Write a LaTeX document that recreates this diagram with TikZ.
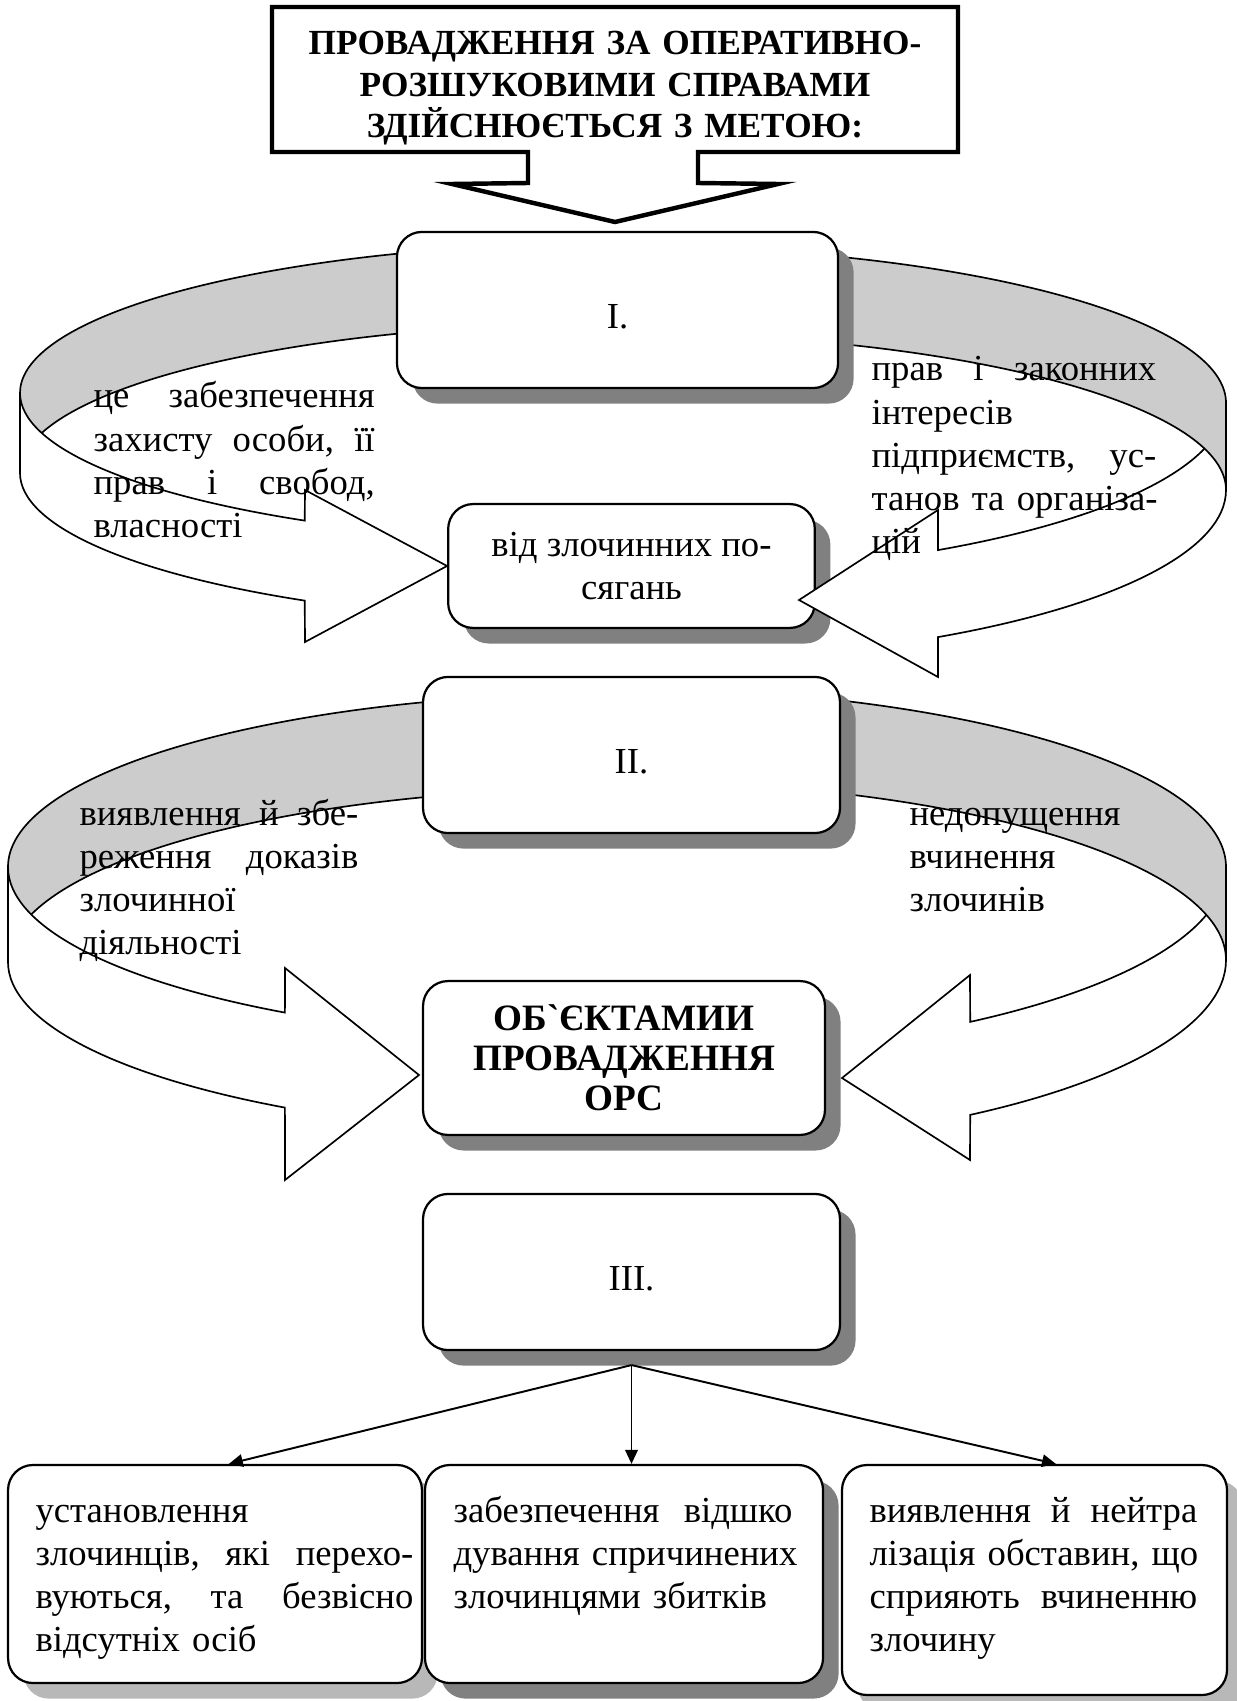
\documentclass[tikz,border=0pt]{standalone}
\usepackage{fontspec}
\setmainfont{Liberation Serif}
\newfontfamily\bezlig{Liberation Serif}[Ligatures=TeXOff]
\usetikzlibrary{arrows.meta,shadows,calc}

\newlength{\shyr}
\newcommand{\rivno}[1]{\leavevmode\hbox to\shyr{#1}}
\newcommand{\nyzhche}[1]{\raisebox{-2.5pt}[\height][\depth]{#1}}

\tikzset{
  blok/.style={draw, line width=0.8pt, rounded corners=9pt, fill=white, inner sep=0pt, align=center, font=\fontsize{13.2}{15.5}\selectfont},
  tinj/.style={general shadow={fill=black!50, shadow xshift=5.6pt, shadow yshift=-5.6pt}},
  tinjs/.style={general shadow={fill=black!28, shadow xshift=5.6pt, shadow yshift=-5.6pt}},
  stuzhka/.style={fill=black!20, draw, line width=0.6pt},
  lytse/.style={fill=white, draw, line width=0.6pt},
  tekst/.style={inner sep=0pt, anchor=base west, align=left, font=\fontsize{13.2}{15.5}\selectfont, text width=#1, execute at begin node={\setlength{\shyr}{#1}}},
  strilka/.style={-{Triangle[length=5pt,width=4.5pt]}, line width=0.7pt},
}

\begin{document}
\begin{tikzpicture}[x=0.36pt, y=-0.36pt]
\useasboundingbox (0,0) rectangle (1236,1701);

% title with block arrow
\draw[line width=1.6pt, fill=white] (272,7) -- (958,7) -- (958,152) -- (698,152) -- (698,183) -- (778,184) -- (615,222) -- (452,184) -- (528,183) -- (528,152) -- (272,152) -- cycle;
\node[inner sep=0pt, text width=240pt, align=center, anchor=base, font=\bfseries\fontsize{12.7}{14.8}\selectfont] (meta) at (615,55) {ПРОВАДЖЕННЯ ЗА ОПЕРАТИВНО-\\РОЗШУКОВИМИ СПРАВАМИ\\ЗДІЙСНЮЄТЬСЯ З МЕТОЮ:};

% target of the first pair
\node[blok, tinj, minimum width=132pt, minimum height=44.6pt] (vid) at (631.5,566) {від злочинних по-\\сягань};

% first pair of curved arrows
\coordinate (cu1) at (620,393);
\coordinate (cl1) at (620,473);
\draw[stuzhka] ([shift={(249.5:600 and 150)}]cu1) arc[start angle=249.5, end angle=180, x radius=600, y radius=150] -- ([shift={(180:600 and 150)}]cl1) arc[start angle=180, end angle=249.5, x radius=600, y radius=150] -- cycle;
\draw[lytse] ([shift={(180:600 and 150)}]cu1) arc[start angle=180, end angle=121.7, x radius=600, y radius=150] -- (305,490) -- (vid.west) -- (305,642) -- ([shift={(121.7:600 and 150)}]cl1) arc[start angle=121.7, end angle=180, x radius=600, y radius=150] -- cycle;

\coordinate (cu2) at (618,403);
\coordinate (cl2) at (618,490);
\draw[lytse] ([shift={(0:608 and 173)}]cu2) arc[start angle=0, end angle=58.25, x radius=608, y radius=173] -- (938,510) -- (799,600) -- (938,677) -- ([shift={(58.25:608 and 173)}]cl2) arc[start angle=58.25, end angle=0, x radius=608, y radius=173] -- cycle;
\draw[stuzhka] ([shift={(290.4:608 and 157)}]cu2) arc[start angle=290.4, end angle=360, x radius=608, y radius=157] -- ([shift={(0:608 and 157)}]cl2) arc[start angle=360, end angle=290.4, x radius=608, y radius=157] -- cycle;

\node[blok, tinj, minimum width=158.8pt, minimum height=56.2pt] (pershyi) at (617.5,310) {\nyzhche{I.}};

% target of the second pair
\node[blok, tinj, minimum width=144.7pt, minimum height=55.4pt, font=\bfseries\fontsize{13.4}{14.4}\selectfont] (obiekt) at (624,1058) {ОБ{\bezlig`}ЄКТАМИИ\\ПРОВАДЖЕННЯ\\ОРС};

% second pair of curved arrows
\coordinate (cu3) at (620,867);
\coordinate (cl3) at (620,962);
\draw[stuzhka] ([shift={(252.4:612 and 174)}]cu3) arc[start angle=252.4, end angle=180, x radius=612, y radius=174] -- ([shift={(180:612 and 174)}]cl3) arc[start angle=180, end angle=252.4, x radius=612, y radius=174] -- cycle;
\draw[lytse] ([shift={(180:612 and 174)}]cu3) arc[start angle=180, end angle=123.2, x radius=612, y radius=174] -- (285,968) -- (419,1075) -- (285,1180) -- ([shift={(123.2:612 and 174)}]cl3) arc[start angle=123.2, end angle=180, x radius=612, y radius=174] -- cycle;

\coordinate (cu4) at (618,867);
\coordinate (cl4) at (618,960);
\draw[lytse] ([shift={(0:608 and 190)}]cu4) arc[start angle=0, end angle=54.6, x radius=608, y radius=190] -- (970,975) -- (842,1078) -- (970,1160) -- ([shift={(54.6:608 and 190)}]cl4) arc[start angle=54.6, end angle=0, x radius=608, y radius=190] -- cycle;
\draw[stuzhka] ([shift={(290.4:608 and 179)}]cu4) arc[start angle=290.4, end angle=360, x radius=608, y radius=179] -- ([shift={(0:608 and 179)}]cl4) arc[start angle=360, end angle=290.4, x radius=608, y radius=179] -- cycle;

\node[blok, tinj, minimum width=150.1pt, minimum height=56.2pt] (druhyi) at (631.5,755) {\nyzhche{II.}};

% third block
\node[blok, tinj, minimum width=150.1pt, minimum height=56.2pt] (tretii) at (631.5,1272) {\nyzhche{III.}};
\node[blok, tinjs, minimum width=149pt, minimum height=78.5pt] (vstan) at (215,1574) {};
\node[blok, tinj, minimum width=143.3pt, minimum height=78.5pt] (vidsh) at (624,1574) {};
\node[blok, tinjs, minimum width=138.6pt, minimum height=82.8pt] (neitr) at (1034.5,1580) {};

\coordinate (hub) at ([yshift=-5pt]tretii.south);
\draw[strilka] (hub) -- ([xshift=5pt]vstan.north);
\draw[strilka] (hub) -- (hub |- vidsh.north);
\draw[strilka] (hub) -- ([xshift=7.7pt]neitr.north);

% texts
\node[tekst=101.2pt] (tzakh) at (93,408) {\rivno{це \hfill забезпечення}\\\rivno{захисту \hfill особи, \hfill її}\\\rivno{прав \hfill і \hfill свобод,}\\власності};
\node[tekst=102.5pt] (tprav) at (871,381) {\rivno{прав \hfill і \hfill законних}\\інтересів\\\rivno{підприємств, \hfill ус-}\\\rivno{танов \hfill та \hfill організа-}\\цій};
\node[tekst=100.4pt] (tdokaz) at (79,825) {\rivno{виявлення \hfill й \hfill збе-}\\\rivno{реження \hfill доказів}\\злочинної\\діяльності};
\node[tekst=97.6pt] (tnedop) at (909,825) {недопущення\\вчинення\\злочинів};
\node[tekst=136pt] (tvstan) at (35,1522) {установлення\\\rivno{злочинців, \hfill які \hfill перехо-}\\\rivno{вуються, \hfill та \hfill безвісно}\\відсутніх осіб};
\node[tekst=122pt] (tvidsh) at (453,1522) {\rivno{забезпечення \hfill відшко}\\\rivno{дування \hfill спричинених}\\злочинцями збитків};
\node[tekst=118pt] (tneitr) at (869,1522) {\rivno{виявлення \hfill й \hfill нейтра}\\\rivno{лізація \hfill обставин, \hfill що}\\\rivno{сприяють \hfill вчиненню}\\злочину};
\end{tikzpicture}
\end{document}
